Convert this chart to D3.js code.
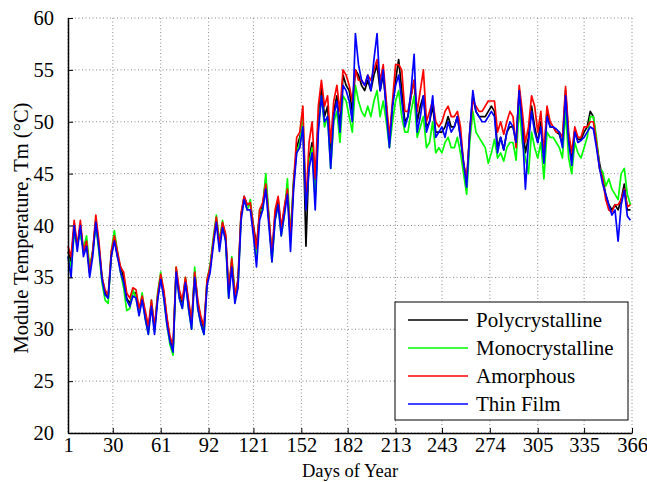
<!DOCTYPE html>
<html><head><meta charset="utf-8">
<script src="https://cdn.jsdelivr.net/npm/d3@7"></script>
<style>
html,body{margin:0;padding:0;background:#fff;}
svg text{font-family:"Liberation Serif","Times New Roman",serif;fill:#000;}
</style></head>
<body><svg id="chart" width="647" height="482"></svg>
<script>
// Days sampled (every second day of the year)
const days = d3.range(1, 366, 2);
const xTicks = [1, 30, 61, 92, 121, 152, 182, 213, 243, 274, 305, 335, 366];
const yTicks = [20, 25, 30, 35, 40, 45, 50, 55, 60];
const seriesNames = ["Polycrystalline", "Monocrystalline", "Amorphous", "Thin Film"];
const seriesColors = ["#000000", "#00ff00", "#ff0000", "#0000ff"];

const poly = [
37.5,36.5,40.0,38.0,40.0,37.5,38.5,35.5,37.5,40.5,38.0,35.0,33.5,33.0,37.0,38.8,
37.0,36.0,35.0,33.0,32.5,33.5,33.5,31.8,33.0,31.5,30.0,32.5,30.0,33.0,35.0,33.5,31.0,29.0,28.0,35.8,33.5,32.5,34.8,32.5,30.5,35.5,32.5,31.0,30.0,34.5,
36.0,38.4,40.5,38.0,40.2,39.0,33.5,36.5,33.0,34.5,41.0,42.8,42.0,42.0,40.0,38.0,41.0,42.0,44.5,40.5,37.0,41.0,42.5,39.5,41.5,43.5,38.5,44.0,47.5,48.5,50.0,38.0,46.5,48.0,43.0,50.0,53.5,50.5,51.5,46.5,51.0,52.5,49.5,54.5,53.5,
53.0,51.0,55.0,54.5,53.5,53.0,54.0,53.0,54.5,55.5,53.0,54.5,51.5,48.0,51.5,54.0,56.0,53.0,50.0,50.5,52.5,54.0,50.0,51.5,52.5,49.5,50.0,51.5,49.0,49.0,49.0,49.5,50.5,49.5,49.5,50.5,48.5,46.0,44.0,49.0,52.5,51.0,50.5,50.5,50.5,
51.0,51.5,51.0,47.5,48.5,47.3,49.0,49.5,49.5,48.0,53.0,50.0,47.0,48.5,51.5,49.5,48.0,50.0,46.5,51.0,49.5,49.5,49.0,48.8,47.8,53.0,48.5,46.3,49.3,48.3,48.3,49.0,49.5,51.0,50.5,48.0,46.0,44.5,43.0,42.0,41.5,42.0,41.5,42.5,44.0,41.5,41.5
];
const mono = [
37.0,36.0,39.0,38.5,39.0,37.8,39.0,36.0,37.5,40.0,37.5,34.5,32.8,32.5,37.5,39.5,
37.5,35.5,34.0,31.8,32.0,33.8,33.0,31.5,33.5,31.0,29.5,32.8,29.8,33.5,35.5,33.0,30.5,28.5,27.5,36.0,33.0,32.0,35.0,32.0,30.0,36.0,32.0,30.5,29.5,34.8,
36.2,38.8,41.0,38.5,40.5,38.5,33.0,37.0,33.5,34.0,41.0,42.5,41.5,42.5,39.5,37.0,41.5,41.5,45.0,41.0,36.5,40.5,42.0,39.0,41.0,44.5,39.0,44.5,47.0,48.0,50.5,42.0,46.0,47.5,42.5,49.5,52.5,49.5,50.5,45.5,50.0,51.0,48.0,52.5,52.0,
50.5,49.0,53.5,52.0,51.0,50.5,51.5,50.5,52.0,53.0,50.5,52.0,50.0,47.5,50.0,52.0,53.0,50.5,49.0,49.0,51.0,52.5,48.5,49.5,50.5,47.5,48.0,50.0,47.0,47.5,47.0,48.0,48.5,47.5,47.5,48.5,47.0,45.0,43.0,48.0,51.0,49.0,48.5,48.0,47.5,
46.0,47.0,48.3,46.5,47.0,46.2,47.5,48.0,48.0,46.3,51.5,48.0,46.5,45.0,49.0,47.5,46.5,48.0,44.5,49.0,48.5,48.5,48.0,47.5,46.5,51.0,46.5,45.0,48.0,47.0,46.5,47.5,48.5,50.5,50.5,48.5,45.5,45.2,43.8,44.5,43.5,43.0,42.5,45.0,45.5,43.0,42.0
];
const amorph = [
38.0,37.0,40.5,38.0,40.5,37.5,38.5,35.5,37.5,41.0,38.5,35.0,33.8,33.3,37.5,39.0,
37.5,36.0,35.5,33.5,33.0,34.0,33.8,32.0,33.2,31.8,30.3,32.8,30.2,33.3,35.3,33.8,31.2,29.3,28.5,36.0,33.8,32.8,35.0,32.8,30.8,35.5,32.8,31.2,30.3,34.8,
36.0,38.5,40.8,38.2,40.3,39.2,33.8,36.8,33.3,34.8,41.2,42.8,42.0,42.2,39.8,37.8,41.5,42.2,44.0,40.8,37.2,41.5,42.8,39.8,41.8,43.5,38.8,44.2,48.5,49.0,51.5,42.0,48.0,50.0,44.5,51.5,54.0,51.5,52.5,48.0,52.0,53.5,51.0,55.0,54.5,
53.5,52.0,55.0,54.0,54.0,53.5,54.5,54.0,55.0,56.0,54.0,55.5,52.0,48.5,52.0,55.5,55.5,55.0,51.0,51.0,52.5,54.0,51.0,53.0,55.0,50.0,51.0,52.0,50.0,49.5,50.0,51.0,51.5,50.5,50.5,51.0,49.5,46.0,44.5,49.0,52.0,51.5,51.0,51.0,51.5,
52.0,52.0,52.0,49.0,50.0,48.8,50.0,51.0,50.5,47.5,53.5,51.0,48.0,49.5,52.5,51.5,49.0,51.0,47.0,51.5,50.0,49.5,49.0,49.0,48.5,53.4,49.0,47.0,49.5,48.5,48.5,49.5,49.5,50.0,50.0,48.0,45.5,44.5,42.5,41.5,41.3,42.0,42.0,42.5,43.5,41.8,42.0
];
const thin = [
37.0,35.0,40.0,37.5,40.0,37.0,38.0,35.0,37.0,40.3,37.8,34.8,33.3,33.0,37.0,38.5,
37.0,35.5,34.5,32.8,32.2,33.2,33.0,31.3,32.8,31.0,29.5,32.2,29.5,32.8,34.8,33.0,30.5,28.8,27.8,35.5,33.0,32.0,34.5,32.0,30.0,35.0,32.0,30.5,29.5,34.2,
35.5,38.0,40.3,37.5,39.8,38.5,33.0,36.0,32.5,34.0,40.5,42.5,41.5,41.5,39.0,36.0,40.5,41.5,43.5,40.0,36.5,40.5,42.0,39.0,41.0,43.0,37.5,43.5,47.0,47.5,49.5,41.5,45.5,47.0,41.5,49.0,52.5,50.0,50.5,45.5,50.5,52.0,49.0,53.5,53.0,
52.0,50.0,58.5,55.5,54.0,53.5,54.5,53.0,56.0,58.5,53.0,55.0,51.0,47.5,51.5,53.5,54.5,52.0,49.5,50.5,53.0,56.5,49.0,50.5,52.5,49.0,50.0,52.5,48.5,49.0,49.5,48.5,50.0,49.0,49.5,50.5,48.5,46.0,43.7,49.0,53.0,51.0,50.5,50.0,50.0,
50.5,51.0,50.5,47.0,48.5,47.3,49.0,50.0,49.5,48.0,53.0,49.5,43.5,48.0,51.0,49.0,48.0,49.5,46.0,50.5,49.5,49.5,49.3,49.0,47.5,52.5,48.0,45.8,49.0,48.0,48.2,48.5,49.0,49.5,49.3,47.5,45.5,44.0,43.0,42.0,41.0,41.5,38.5,42.0,43.4,40.9,40.5
];
const seriesValues = [poly, mono, amorph, thin];

const svg = d3.select("#chart");
const L = 68, R = 632, T = 18, B = 433;
const x = d3.scaleLinear().domain([1, 366]).range([L, R]);
const y = d3.scaleLinear().domain([20, 60]).range([B, T]);

// grid
const grid = svg.append("g");
grid.selectAll("line.v").data(xTicks).join("line")
  .attr("x1", d => x(d)).attr("x2", d => x(d)).attr("y1", T).attr("y2", B)
  .attr("stroke", "#8a8a8a").attr("stroke-width", 1).attr("stroke-dasharray", "1,2.5");
grid.selectAll("line.h").data(yTicks).join("line")
  .attr("x1", L).attr("x2", R).attr("y1", d => y(d)).attr("y2", d => y(d))
  .attr("stroke", "#8a8a8a").attr("stroke-width", 1).attr("stroke-dasharray", "1,2.5");

// series
const line = d3.line().x((d, i) => x(days[i])).y(d => y(d));
seriesValues.forEach((vals, k) => {
  svg.append("path").datum(vals)
    .attr("d", line).attr("fill", "none")
    .attr("stroke", seriesColors[k]).attr("stroke-width", 1.7)
    .attr("stroke-linejoin", "round");
});

// axes
const xAxis = d3.axisBottom(x).tickValues(xTicks).tickSizeInner(-5).tickSizeOuter(0).tickPadding(4);
const yAxis = d3.axisLeft(y).tickValues(yTicks).tickSizeInner(-5).tickSizeOuter(0).tickPadding(14);
const gx = svg.append("g").attr("transform", `translate(0,${B})`).call(xAxis);
const gy = svg.append("g").attr("transform", `translate(${L},0)`).call(yAxis);
[gx, gy].forEach(g => {
  g.select(".domain").attr("stroke", "#000").attr("stroke-width", 1.5);
  g.selectAll(".tick line").attr("stroke", "#000");
  g.selectAll(".tick text").style("font-family", "Liberation Serif").style("font-size", "20.5px").attr("fill", "#000");
});

// labels
svg.append("text").attr("x", 350).attr("y", 477).attr("text-anchor", "middle")
  .style("font-size", "18.5px").text("Days of Year");
svg.append("text").attr("transform", "translate(28,228) rotate(-90)").attr("text-anchor", "middle")
  .style("font-size", "20.5px").text("Module Temperature, Tm (°C)");

// legend
const lg = svg.append("g");
lg.append("rect").attr("x", 395).attr("y", 302).attr("width", 233).attr("height", 118)
  .attr("fill", "#fff").attr("stroke", "#000").attr("stroke-width", 1);
seriesNames.forEach((n, k) => {
  const yy = 320 + k * 28;
  lg.append("line").attr("x1", 408).attr("x2", 468).attr("y1", yy).attr("y2", yy)
    .attr("stroke", seriesColors[k]).attr("stroke-width", 1.7);
  lg.append("text").attr("x", 476).attr("y", yy + 7).style("font-size", "21px").text(n);
});
</script></body></html>
